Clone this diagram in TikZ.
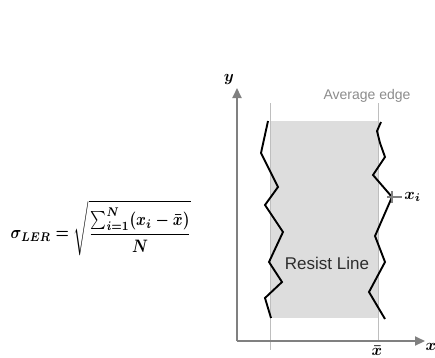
\documentclass[tikz,border=0pt]{standalone}
\usepackage{amsmath}
\usepackage{fontspec}
\setsansfont{Liberation Sans}
\usepackage{tikz}
\usetikzlibrary{arrows.meta, positioning}
\definecolor{axisgray}{RGB}{128, 128, 128}
\definecolor{avggray}{RGB}{190, 190, 190}
\definecolor{resistgray}{RGB}{221, 221, 221}
\definecolor{labelgray}{RGB}{140, 140, 140}
\definecolor{textdark}{RGB}{45, 45, 45}
\tikzset{
  axisline/.style={
    draw=axisgray, line width=2pt, -{Triangle[length=10pt, width=9pt]}
  },
  avgline/.style={draw=avggray, line width=0.9pt},
  edgeline/.style={draw=black, line width=1.9pt, line join=miter},
  resistblock/.style={fill=resistgray, draw=none},
  markline/.style={draw=axisgray, line width=1.4pt},
  mathlabel/.style={inner sep=0pt, scale=1.6, font=\boldmath},
  sanslabel/.style={inner sep=0pt, font=\sffamily\fontsize{14}{16}\selectfont}
}

\begin{document}
\begin{tikzpicture}[x=1pt, y=-1pt]

  \useasboundingbox (0,0) rectangle (435,357);

  % Formula
  \node[inner sep=0pt, xscale=1.5, yscale=1.8, font=\boldmath] (formula) at (101,228)
    {$\displaystyle \sigma_{LER} = \sqrt{\frac{\sum_{i=1}^{N}(x_i-\bar{x})}{N}}$};

  % Resist line body
  \fill[resistblock] (270,121) rectangle (378,318);

  % Average edges
  \coordinate (ltop) at (270,103);
  \coordinate (lbot) at (270,350);
  \coordinate (rtop) at (378,103);
  \coordinate (rbot) at (378,342);
  \draw[avgline] (ltop) -- (lbot);
  \draw[avgline] (rtop) -- (rbot);

  % Rough edges
  \draw[edgeline] (268,121) -- (261,153) -- (278,187) -- (265,205)
    -- (283,232) -- (269,262) -- (282,282) -- (265,298) -- (271,318);
  \draw[edgeline] (381,122) -- (377,131) -- (380,143) -- (385,157)
    -- (373,175) -- (392,197) -- (375,236) -- (385,262) -- (369,292) -- (385,319);

  % Axes
  \coordinate (origin) at (237,341);
  \coordinate (ytip) at (237,88);
  \coordinate (xtip) at (425,341);
  \draw[axisline] (origin) -- (ytip);
  \draw[axisline] (origin) -- (xtip);

  % Sample point
  \coordinate (xipt) at (392,197);
  \draw[markline] (387,197) -- (402,197);
  \draw[markline] (392,191) -- (392,203);

  % Labels
  \node[mathlabel] (ylabel) at (229,79) {$y$};
  \node[mathlabel] (xlabel) at (431,347) {$x$};
  \node[mathlabel, anchor=north] (xbar) at (377,346) {$\bar{x}$};
  \node[mathlabel, right=12pt of xipt] (xi) {$x_i$};
  \node[sanslabel, text=labelgray] (avglabel) at (367,96) {Average edge};
  \node[sanslabel, text=textdark, font=\sffamily\fontsize{17}{20}\selectfont] (resist) at (327,263) {Resist Line};

\end{tikzpicture}
\end{document}
